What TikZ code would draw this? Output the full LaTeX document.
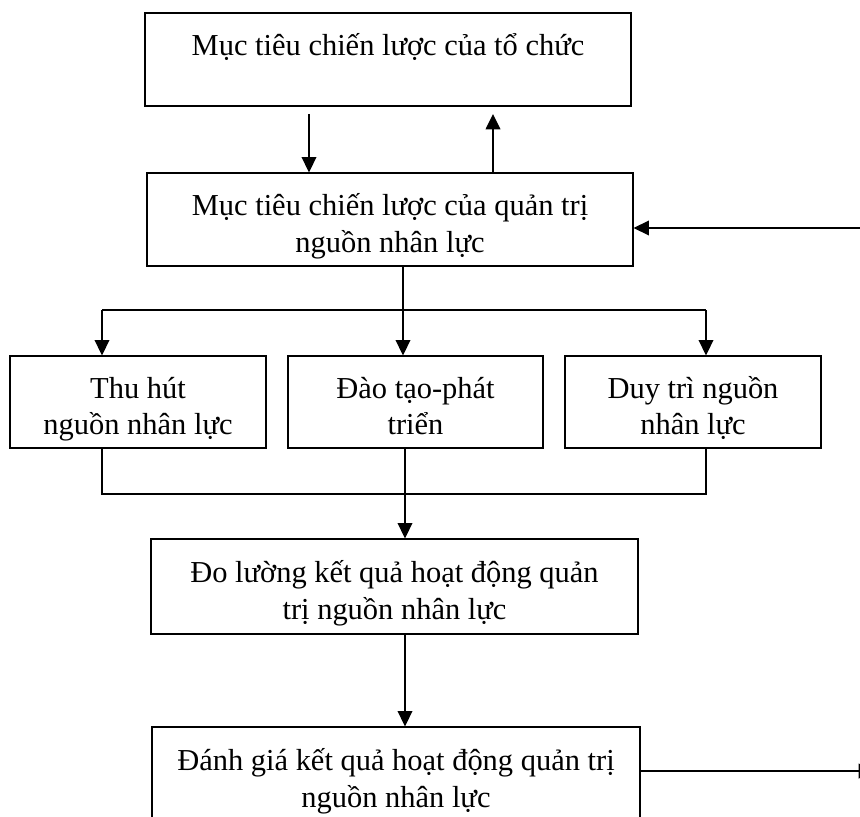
\documentclass[tikz,border=0pt]{standalone}
\usepackage{fontspec}
\setmainfont{Liberation Serif}
\usetikzlibrary{arrows.meta,calc}

\begin{document}
\begin{tikzpicture}[x=0.03cm,y=-0.03cm,
                box/.style={draw,line width=1pt,inner sep=0pt,align=center,text height=62pt,text depth=6pt,font=\fontsize{26}{31}\selectfont},
                arr/.style={line width=1.3pt,-{Triangle[length=0.46cm,width=0.44cm]}},
                conn/.style={line width=1.3pt}]
                \useasboundingbox (0,0) rectangle (860,817);
                \node[box,minimum width=14.58cm,minimum height=2.79cm] (org) at (388,59.5) {Mục tiêu chiến lược của tổ chức\\ \strut};
                \node[box,minimum width=14.58cm,minimum height=2.79cm] (hrm) at (390,219.5) {Mục tiêu chiến lược của quản trị\\ nguồn nhân lực};
                \node[box,minimum width=7.68cm,minimum height=2.76cm] (attract) at (138,402) {Thu hút\\ nguồn nhân lực};
                \node[box,minimum width=7.65cm,minimum height=2.76cm] (train) at (415.5,402) {Đào tạo-phát\\ triển};
                \node[box,minimum width=7.68cm,minimum height=2.76cm] (retain) at (693,402) {Duy trì nguồn\\ nhân lực};
                \node[box,minimum width=14.61cm,minimum height=2.85cm] (measure) at (394.5,586.5) {Đo lường kết quả hoạt động quản\\ trị nguồn nhân lực};
                \node[box,minimum width=14.64cm,minimum height=2.85cm] (eval) at (396,774.5) {Đánh giá kết quả hoạt động quản trị\\ nguồn nhân lực};
                \coordinate (down) at (309,114);
                \coordinate (up) at (493,114);
                \coordinate (split) at (403,310);
                \coordinate (splitL) at (102,310);
                \coordinate (splitR) at (706,310);
                \coordinate (join) at (405,494);
                \coordinate (joinL) at (102,494);
                \coordinate (joinR) at (706,494);
                \coordinate (fbin) at (862,228);
                \coordinate (fbout) at (874,771);
                \draw[arr] (down) -- (hrm.north -| down);
                \draw[arr] (hrm.north -| up) -- (up);
                \draw[conn] (hrm.south -| split) -- (split);
                \draw[conn] (splitL) -- (splitR);
                \draw[arr] (splitL) -- (attract.north -| splitL);
                \draw[arr] (split) -- (train.north -| split);
                \draw[arr] (splitR) -- (retain.north -| splitR);
                \draw[conn] (attract.south -| joinL) -- (joinL) -- (joinR) -- (retain.south -| joinR);
                \draw[arr] (train.south -| join) -- (measure.north -| join);
                \draw[arr] (measure.south -| join) -- (eval.north -| join);
                \draw[arr] (fbin) -- (hrm.east |- fbin);
                \draw[arr] (eval.east |- fbout) -- (fbout);
            \end{tikzpicture}
\end{document}
